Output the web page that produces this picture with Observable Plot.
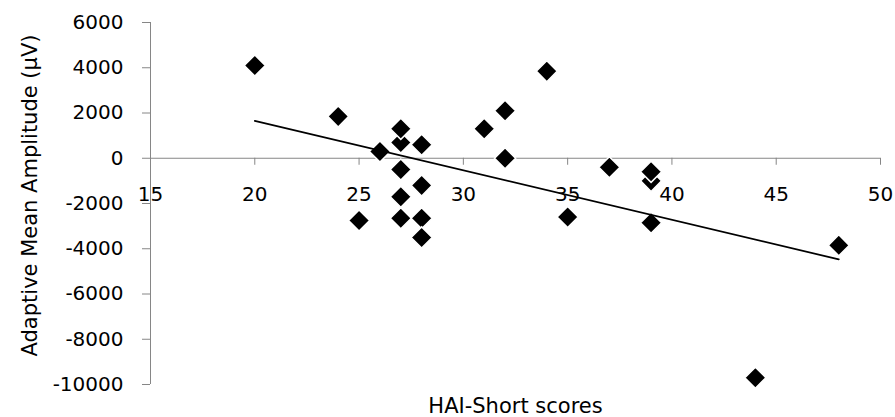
<!DOCTYPE html>
<html>
<head>
<meta charset="utf-8">
<script src="https://cdn.jsdelivr.net/npm/d3@7"></script>
<script src="https://cdn.jsdelivr.net/npm/@observablehq/plot@0.6"></script>
<style>
  html, body { margin: 0; padding: 0; background: #fff; }
  #chart svg { display: block; }
</style>
</head>
<body>
<div id="chart"></div>
<script>
// HAI-Short scores (x) and Adaptive Mean Amplitude in µV (y)
const haiScores = [20, 24, 25, 26, 27, 27, 27, 27, 27, 28, 28, 28, 28, 31, 32, 32, 34, 35, 37, 39, 39, 39, 44, 48];
const amplitudes = [4100, 1850, -2750, 300, 700, 1300, -500, -1700, -2650, 600, -1200, -2650, -3500, 1300, 2100, 0, 3850, -2600, -400, -1000, -600, -2850, -9700, -3850];
const xTicks = [15, 20, 25, 30, 35, 40, 45, 50];
const yTicks = [6000, 4000, 2000, 0, -2000, -4000, -6000, -8000, -10000];
const xTitle = "HAI-Short scores";
const yTitle = "Adaptive Mean Amplitude (µV)";

const data = haiScores.map((x, i) => ({x, y: amplitudes[i]}));
const axisGray = "#868686";

const chart = Plot.plot({
  width: 895,
  height: 417,
  marginLeft: 150,
  marginRight: 15,
  marginTop: 22,
  marginBottom: 33,
  style: {fontFamily: "DejaVu Sans", fontSize: "20px", color: "black", background: "white"},
  x: {domain: [15, 50], axis: null},
  y: {domain: [-10000, 6000], axis: null},
  marks: [
    // y axis line and ticks
    Plot.ruleX([15], {stroke: axisGray, strokeWidth: 1}),
    Plot.ruleY(yTicks, {y: d => d, x1: 15, x2: 15, insetLeft: -8, stroke: axisGray, strokeWidth: 1}),
    Plot.text(yTicks, {x: 15, y: d => d, text: d => String(d), textAnchor: "end", dx: -27, fill: "black"}),
    // x axis line at y = 0, ticks and labels
    Plot.ruleY([0], {stroke: axisGray, strokeWidth: 1}),
    Plot.ruleX(xTicks, {x: d => d, y1: 0, y2: 0, insetBottom: -7, stroke: axisGray, strokeWidth: 1}),
    Plot.text(xTicks, {x: d => d, y: 0, text: d => String(d), dy: 36, fill: "black"}),
    // titles
    Plot.text([xTitle], {frameAnchor: "bottom", textAnchor: "middle", lineAnchor: "middle", dy: 22, fontSize: 21, fill: "black"}),
    Plot.text([yTitle], {frameAnchor: "left", textAnchor: "middle", lineAnchor: "middle", rotate: -90, dx: -120, dy: -8, fontSize: 21, fill: "black"}),
    // data points
    Plot.dot(data, {x: "x", y: "y", symbol: "diamond2", r: 9.5, fill: "black", stroke: "white", strokeWidth: 1.5}),
    // linear trendline
    Plot.linearRegressionY(data, {x: "x", y: "y", ci: 0, stroke: "black", strokeWidth: 1.75})
  ]
});
document.getElementById("chart").appendChild(chart);
</script>
</body>
</html>
